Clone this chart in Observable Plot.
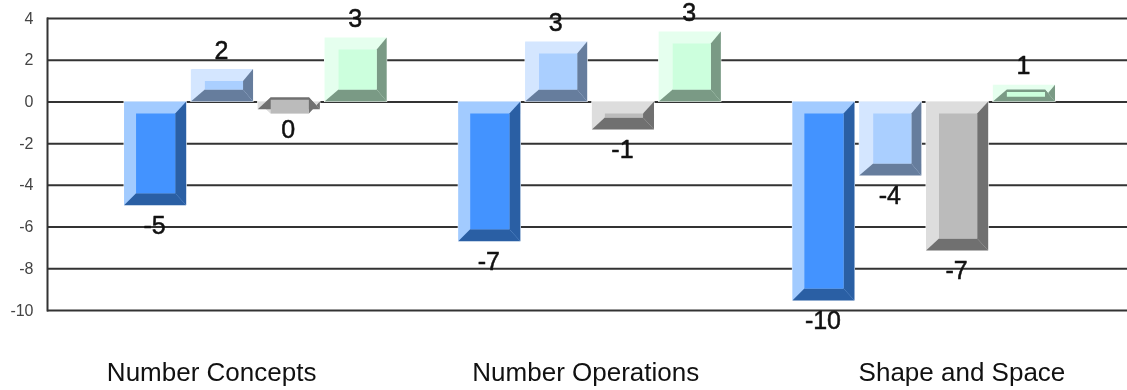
<!DOCTYPE html>
<html>
<head>
<meta charset="utf-8">
<script src="https://cdn.jsdelivr.net/npm/d3@7"></script>
<script src="https://cdn.jsdelivr.net/npm/@observablehq/plot@0.6"></script>
<style>
html,body{margin:0;padding:0;background:#fff}
svg{display:block;filter:blur(0.45px)}
</style>
</head>
<body>
<div id="chart"></div>
<script>
const categories = ["Number Concepts", "Number Operations", "Shape and Space"];
const seriesNames = ["A", "B", "C", "D"];
const conceptsValues = [-4.98, 1.55, -0.38, 3.06];
const operationsValues = [-6.7, 2.87, -1.34, 3.35];
const shapeValues = [-9.55, -3.55, -7.15, 0.8];
const conceptsLabels = ["-5", "2", "0", "3"];
const operationsLabels = ["-7", "3", "-1", "3"];
const shapeLabels = ["-10", "-4", "-7", "1"];
const yTicks = [4, 2, 0, -2, -4, -6, -8, -10];
const mainColors = ["#4393ff", "#aacfff", "#bbbbbb", "#ccffdd"];
const lightColors = ["#a2cbff", "#d4e6ff", "#dddddd", "#e5ffee"];
const darkColors = ["#2a5fa4", "#667d9d", "#707070", "#7a9a85"];

const valueLists = [conceptsValues, operationsValues, shapeValues];
const labelLists = [conceptsLabels, operationsLabels, shapeLabels];
const rows = categories.flatMap((category, i) =>
  seriesNames.map((series, j) => ({
    key: category + "|" + series, category, series, j,
    value: valueLists[i][j], label: labelLists[i][j]
  })));
// One empty band separates each group from the next.
const xDomain = categories.flatMap((category, i) => [
  ...seriesNames.map(series => category + "|" + series),
  ...(i < categories.length - 1 ? [category + "|gap"] : [])
]);

const bevelLeft = [12, 14, 13, 14];
const bevelRight = [11, 10, 11, 10];
const bevelV = 12;

function bevel(index, scales, values, dimensions, context, next) {
  const g = next(index, scales, values, dimensions, context);
  const rects = [...g.querySelectorAll("rect")];
  rects.forEach((rect, k) => {
    const d = rows[index[k]];
    const x0 = +rect.getAttribute("x"), w = +rect.getAttribute("width");
    const y0 = +rect.getAttribute("y"), h = +rect.getAttribute("height");
    const x1 = x0 + w, y1 = y0 + h;
    const a = x0 + bevelLeft[d.j], b = x1 - bevelRight[d.j];
    const c = y0 + bevelV, e = y1 - bevelV;
    const inverted = e < c;
    rect.setAttribute("fill", lightColors[d.j]);
    rect.setAttribute("stroke", "#ffffff");
    rect.setAttribute("stroke-width", 1);
    const parent = d3.select(rect.parentNode);
    const poly = (pts, fill) => parent.append("polygon")
      .attr("points", pts.map(p => p.join(",")).join(" ")).attr("fill", fill);
    poly([[x0, y0], [x1, y0], [b, c], [a, c]], lightColors[d.j]);
    poly([[x0, y0], [a, c], [a, e], [x0, y1]], lightColors[d.j]);
    poly([[x1, y0], [b, c], [b, e], [x1, y1]], darkColors[d.j]);
    poly([[x0, y1], [a, e], [b, e], [x1, y1]], darkColors[d.j]);
    const top = inverted ? e + 2.5 : c;
    const bottom = inverted ? c : e;
    poly([[a, top], [b, top], [b, bottom], [a, bottom]], mainColors[d.j]);
  });
  return g;
}

const labelDx = [56, 96, 138];
const ink = "#333333";
const valueText = {x: "key", y: "value", text: "label", dx: -1, fontSize: 25, fill: "#111", stroke: "#111", strokeWidth: 0.5};

const chart = Plot.plot({
  width: 1127,
  height: 390,
  marginLeft: 47,
  marginRight: 0,
  marginTop: 18,
  marginBottom: 80,
  style: {background: "#fff", fontFamily: "'Liberation Sans', Arial, sans-serif"},
  y: {domain: [-10, 4], axis: null},
  x: {domain: xDomain, round: false, paddingInner: 0.07, paddingOuter: 1.115, align: 0.517, axis: null},
  color: {domain: seriesNames, range: mainColors},
  marks: [
    Plot.ruleY(yTicks, {stroke: ink, strokeWidth: 2}),
    Plot.frame({anchor: "left", stroke: ink, strokeWidth: 2}),
    Plot.axisY(yTicks, {anchor: "left", tickSize: 0, tickPadding: 14, tickFormat: d => String(d), fontSize: 16, color: "#444", label: null}),
    Plot.barY(rows, {x: "key", y: "value", fill: "series", render: bevel}),
    Plot.text(rows.filter(d => d.value >= 0), {...valueText, dy: -19}),
    Plot.text(rows.filter(d => d.value < 0), {...valueText, dy: 20}),
    ...categories.map((category, i) =>
      Plot.text([category], {x: d => d + "|A", text: d => d, frameAnchor: "bottom", dy: 70, dx: labelDx[i], fontSize: 26, fill: "#111"}))
  ]
});
document.getElementById("chart").append(chart);
</script>
</body>
</html>
